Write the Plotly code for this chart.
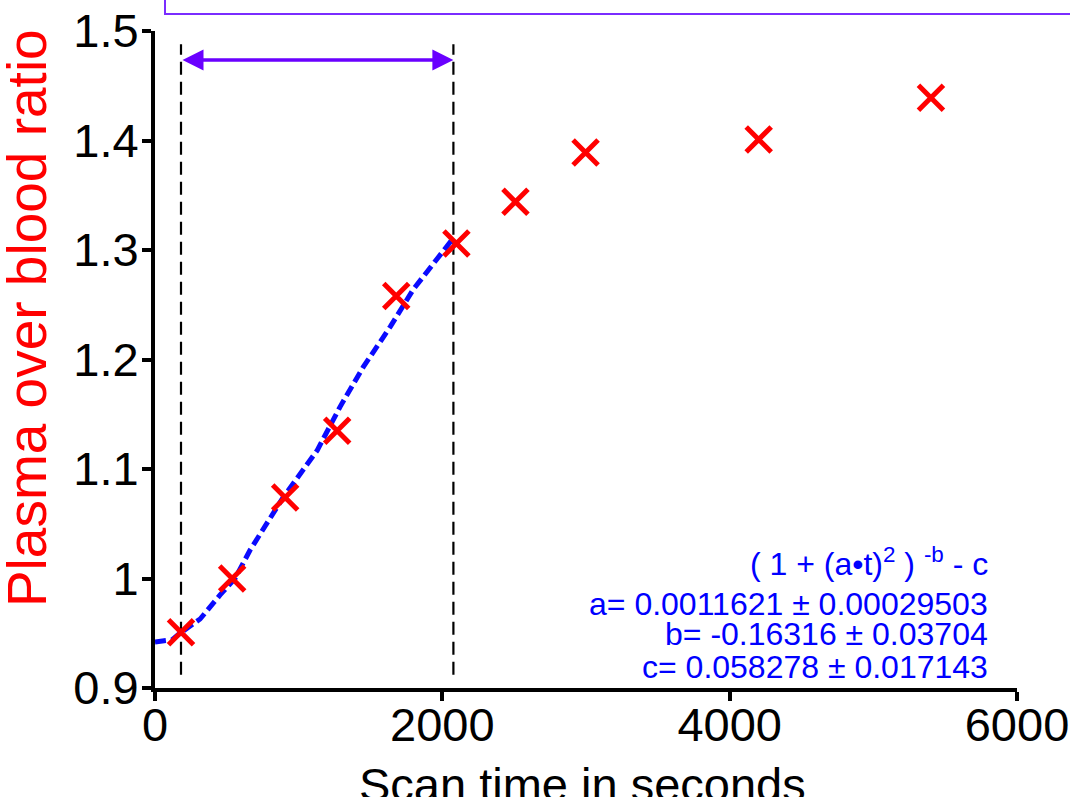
import plotly.graph_objects as go

# Measured data (scan time in seconds, plasma/blood ratio)
scan_time = [181, 537, 906, 1268, 1679, 2098, 2509, 2997, 4202, 5401]
ratio = [0.951, 1.000, 1.074, 1.135, 1.258, 1.306, 1.344, 1.389, 1.401, 1.439]

# Fitted curve
fit_time = [0, 118, 174, 314, 453, 557, 662, 892, 1129, 1289, 1449, 1638, 1798, 1937, 2077]
fit_ratio = [0.942, 0.944, 0.950, 0.963, 0.985, 1.000, 1.026, 1.074, 1.117, 1.157, 1.193,
             1.230, 1.264, 1.288, 1.311]

# Fit window boundaries
window_start = 181
window_end = 2077
window_ylow = 0.912
window_yhigh = 1.488
arrow_y = 1.4735

x_ticks = [0, 2000, 4000, 6000]
y_ticks = [0.9, 1.0, 1.1, 1.2, 1.3, 1.4, 1.5]
y_ticklabels = ["0.9", "1", "1.1", "1.2", "1.3", "1.4", "1.5"]

formula_lines = ["( 1 + (a\u2022t)<sup>2</sup> ) <sup>-b</sup> - c",
                 "a= 0.0011621 \u00b1 0.00029503",
                 "b= -0.16316 \u00b1 0.03704",
                 "c= 0.058278 \u00b1 0.017143"]

FONT = "Liberation Sans, Arial, sans-serif"

fig = go.Figure()

for xv in [window_start, window_end]:
    fig.add_trace(go.Scatter(x=[xv, xv], y=[window_ylow, window_yhigh], mode="lines",
                             line=dict(color="black", width=2.2, dash="13px,7px"),
                             showlegend=False, hoverinfo="skip"))

fig.add_trace(go.Scatter(x=fit_time, y=fit_ratio, mode="lines",
                         line=dict(color="#0a0aff", width=5, dash="11px,5px"),
                         showlegend=False))

fig.add_trace(go.Scatter(x=scan_time, y=ratio, mode="markers",
                         marker=dict(symbol="x-thin", size=25, line=dict(color="#ff0000", width=5)),
                         showlegend=False))

fig.add_annotation(x=window_end, y=arrow_y, ax=window_start, ay=arrow_y,
                   xref="x", yref="y", axref="x", ayref="y", text="", showarrow=True,
                   arrowhead=2, arrowside="end+start", arrowsize=1.2, arrowwidth=3.5,
                   arrowcolor="#6a00ff")

fig.add_shape(type="rect", xref="paper", yref="paper", x0=0.0116, x1=1.08, y0=1.0259, y1=1.2,
              line=dict(color="#7a2cff", width=2), fillcolor="rgba(0,0,0,0)", layer="above")

ys = [0.1918, 0.1279, 0.0822, 0.032]
for txt, yv in zip(formula_lines, ys):
    fig.add_annotation(x=0.9687, y=yv, xref="paper", yref="paper", text=txt, showarrow=False,
                       xanchor="right", yanchor="middle", font=dict(family=FONT, size=32, color="#0000ff"))

fig.add_annotation(x=-0.1485, y=0.563, xref="paper", yref="paper", text="Plasma over blood ratio",
                   textangle=-90, showarrow=False, xanchor="center", yanchor="middle",
                   font=dict(family=FONT, size=55, color="#ff0000"))
fig.add_annotation(x=0.4954, y=-0.147, xref="paper", yref="paper", text="Scan time in seconds",
                   showarrow=False, xanchor="center", yanchor="middle",
                   font=dict(family=FONT, size=47, color="black"))

fig.update_layout(
    width=1070, height=797,
    margin=dict(l=155, r=53, t=31, b=109, autoexpand=False),
    plot_bgcolor="white", paper_bgcolor="white",
    xaxis=dict(range=[0, 6000], tickvals=x_ticks, showgrid=False, zeroline=False, automargin=False,
               showline=True, linecolor="black", linewidth=4, ticks="outside", ticklen=9,
               tickwidth=4, tickcolor="black", ticklabelstandoff=-16,
               tickfont=dict(family=FONT, size=47, color="black")),
    yaxis=dict(range=[0.9, 1.5], tickvals=y_ticks, ticktext=y_ticklabels, showgrid=False,
               automargin=False, ticklabelstandoff=-6,
               zeroline=False, showline=True, linecolor="black", linewidth=4, ticks="outside",
               ticklen=9, tickwidth=4, tickcolor="black",
               tickfont=dict(family=FONT, size=47, color="black")),
)

fig.write_html("out.html", config={"displayModeBar": False},
               post_script="document.body.style.margin='0';document.body.style.overflow='hidden';")
